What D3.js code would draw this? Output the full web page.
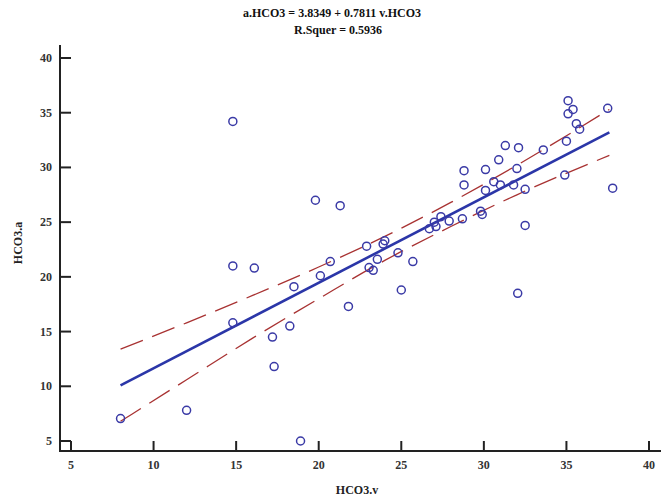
<!DOCTYPE html>
<html><head><meta charset="utf-8">
<script src="https://cdn.jsdelivr.net/npm/d3@7"></script>
<style>body{margin:0;background:#fff;} svg{display:block;}</style>
</head><body><svg id="c" width="661" height="499"></svg>
<script>
// Data
const xVals = [8.0,12.0,14.8,14.8,14.8,16.1,17.2,17.3,18.25,18.5,18.9,19.8,20.1,20.7,21.3,21.8,22.9,23.05,23.3,23.55,24.0,23.9,24.8,25.0,25.7,26.7,27.0,27.1,27.4,27.9,28.7,28.8,28.8,29.8,29.9,30.1,30.1,30.6,30.9,31.0,31.3,31.8,32.0,32.1,32.05,32.5,32.5,33.6,34.9,35.0,35.1,35.1,35.4,35.6,35.8,37.5,37.8];
const yVals = [7.05,7.8,34.2,21.0,15.8,20.8,14.5,11.8,15.5,19.1,5.0,27.0,20.1,21.4,26.5,17.3,22.8,20.85,20.6,21.6,23.3,23.0,22.2,18.8,21.4,24.4,25.0,24.6,25.5,25.1,25.3,28.4,29.7,26.0,25.7,29.8,27.9,28.7,30.7,28.4,32.0,28.4,29.9,31.8,18.5,28.0,24.7,31.6,29.3,32.4,36.1,34.9,35.3,34.0,33.5,35.4,28.1];
const intercept = 3.8349, slope = 0.7811, rSquared = 0.5936;
const fitRange = [8.0, 37.6];
const bandX = [8, 12, 16, 20, 24, 28, 32, 37.6];
const bandUpper = [13.4, 15.8, 18.3, 20.9, 23.7, 26.8, 30.2, 35.3];
const bandLower = [6.8, 10.6, 14.4, 18.0, 21.5, 24.6, 27.5, 31.1];
const xTicks = [5,10,15,20,25,30,35,40];
const yTicks = [5,10,15,20,25,30,35,40];

const svg = d3.select("#c");
const x = d3.scaleLinear().domain([5,40]).range([71,649]);
const y = d3.scaleLinear().domain([5,40]).range([441,58]);
const font = "'Liberation Serif','Times New Roman',serif";
const axisCol = "#222";

// axes lines
svg.append("line").attr("x1",60).attr("x2",60).attr("y1",45).attr("y2",452)
  .attr("stroke",axisCol).attr("stroke-width",2);
svg.append("line").attr("x1",59).attr("x2",661).attr("y1",451).attr("y2",451)
  .attr("stroke",axisCol).attr("stroke-width",2);

// y ticks (inward)
yTicks.forEach(t=>{
  svg.append("line").attr("x1",60).attr("x2",71).attr("y1",y(t)).attr("y2",y(t))
    .attr("stroke",axisCol).attr("stroke-width",2);
  svg.append("text").attr("x",52).attr("y",y(t)+4).attr("text-anchor","end")
    .attr("font-family",font).attr("font-weight","bold").attr("font-size",12)
    .attr("fill","#333").text(t);
});
xTicks.forEach(t=>{
  svg.append("line").attr("x1",x(t)).attr("x2",x(t)).attr("y1",451).attr("y2",441)
    .attr("stroke",axisCol).attr("stroke-width",2);
  svg.append("text").attr("x",x(t)).attr("y",469).attr("text-anchor","middle")
    .attr("font-family",font).attr("font-weight","bold").attr("font-size",12)
    .attr("fill","#333").text(t);
});

// axis titles
svg.append("text").attr("x",357).attr("y",494).attr("text-anchor","middle")
  .attr("font-family",font).attr("font-weight","bold").attr("font-size",12).attr("fill","#222").text("HCO3.v");
svg.append("text").attr("transform","translate(22,243) rotate(-90)").attr("text-anchor","middle")
  .attr("font-family",font).attr("font-weight","bold").attr("font-size",12).attr("fill","#222").text("HCO3.a");

// title
svg.append("text").attr("x",332).attr("y",17).attr("text-anchor","middle")
  .attr("font-family",font).attr("font-weight","bold").attr("font-size",12).attr("fill","#111")
  .text(`a.HCO3 = ${intercept} + ${slope} v.HCO3`);
svg.append("text").attr("x",338).attr("y",34).attr("text-anchor","middle")
  .attr("font-family",font).attr("font-weight","bold").attr("font-size",12).attr("fill","#111")
  .text(`R.Squer = ${rSquared}`);

// confidence bands
const bandLine = d3.line().curve(d3.curveMonotoneX);
[bandUpper, bandLower].forEach(arr=>{
  svg.append("path").attr("d", bandLine(bandX.map((v,i)=>[x(v), y(arr[i])])))
    .attr("fill","none").attr("stroke","#a83232").attr("stroke-width",1.3)
    .attr("stroke-dasharray","24,10");
});

// regression line
svg.append("line")
  .attr("x1",x(fitRange[0])).attr("y1",y(intercept+slope*fitRange[0]))
  .attr("x2",x(fitRange[1])).attr("y2",y(intercept+slope*fitRange[1]))
  .attr("stroke","#2b36a8").attr("stroke-width",2.6);

// points
svg.selectAll("circle.pt").data(xVals.map((v,i)=>[v,yVals[i]])).enter()
  .append("circle").attr("class","pt")
  .attr("cx",d=>x(d[0])).attr("cy",d=>y(d[1])).attr("r",4)
  .attr("fill","none").attr("stroke","#3a3aa6").attr("stroke-width",1.5);
</script></body></html>
